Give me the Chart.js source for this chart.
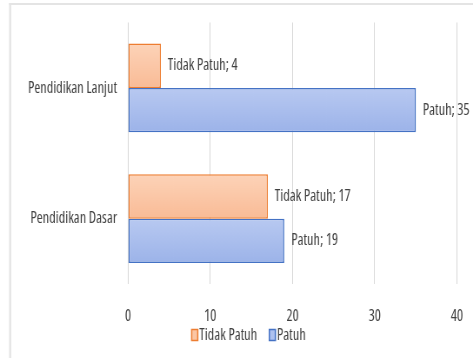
<!DOCTYPE html>
<html>
<head>
<meta charset="utf-8">
<script src="https://cdn.jsdelivr.net/npm/chart.js@4.4.1/dist/chart.umd.min.js"></script>
<style>
  html, body { margin: 0; padding: 0; background: #fff; overflow: hidden; }
  /* el original está comprimido en horizontal: dibujamos más ancho y encogemos */
  #caja { width: 544px; height: 358px; transform: scaleX(0.8695); transform-origin: 0 0; }
</style>
</head>
<body>
<div id="caja"><canvas id="myChart" width="544" height="358"></canvas></div>
<script>
const kategori = ['Pendidikan Lanjut', 'Pendidikan Dasar'];
const seri = ['Tidak Patuh', 'Patuh'];
const tidakPatuh = [4, 17];
const patuh = [35, 19];
const ticksX = [0, 10, 20, 30, 40];

const familia = "'Open Sans', sans-serif";
const tam = 16.5;
const fuente = { family: familia, size: tam, weight: 'condensed' };
const fuenteCss = 'condensed ' + tam + 'px ' + familia;
const gris = '#404040';
const porcentajeCat = 0.677;

const naranja = { borde: '#ed7d31', claro: '#fdd3b8', oscuro: '#f9bb96', caja: '#fbc6a4' };
const azul = { borde: '#4472c4', claro: '#b8c9f1', oscuro: '#9cb3e9', caja: '#adc1ef' };

// degradado vertical por barra, como en Excel
function degradado(col, indice) {
  return (ctx) => {
    const chart = ctx.chart;
    const y = chart.scales.y;
    if (!y || !chart.chartArea || ctx.dataIndex === undefined) return col.caja;
    const centro = y.getPixelForValue(ctx.dataIndex);
    const banda = (y.bottom - y.top) / kategori.length * porcentajeCat / 2;
    const arriba = indice === 0 ? centro - banda : centro;
    const g = chart.ctx.createLinearGradient(0, arriba, 0, arriba + banda);
    g.addColorStop(0, col.claro);
    g.addColorStop(1, col.oscuro);
    return g;
  };
}

const marco = {
  id: 'marco',
  beforeDraw(chart) {
    const c = chart.ctx;
    c.save();
    c.fillStyle = '#fff';
    c.fillRect(0, 0, chart.width, chart.height);
    c.fillStyle = '#e4e4e4';
    c.fillRect(10.5, 3, chart.width, 2);
    c.fillRect(10.5, 3, 2.3, chart.height);
    c.restore();
  }
};

const etiquetas = {
  id: 'etiquetas',
  afterDatasetsDraw(chart) {
    const c = chart.ctx;
    c.save();
    c.font = fuenteCss;
    c.fillStyle = gris;
    c.textBaseline = 'middle';
    c.textAlign = 'left';
    chart.data.datasets.forEach((ds, i) => {
      chart.getDatasetMeta(i).data.forEach((bar, j) => {
        c.fillText(ds.label + '; ' + ds.data[j], bar.x + 8, bar.y);
      });
    });
    c.restore();
  }
};

const leyenda = {
  id: 'leyenda',
  afterDraw(chart) {
    const c = chart.ctx;
    const colores = [naranja, azul];
    c.save();
    c.font = fuenteCss;
    c.textBaseline = 'middle';
    const ancho = 7, alto = 11, hueco = 1.8, sep = 14;
    const items = chart.data.datasets.map((ds, i) => ({ texto: ds.label, col: colores[i], w: c.measureText(ds.label).width }));
    const total = items.reduce((a, it) => a + ancho + hueco + it.w, 0) + sep * (items.length - 1);
    let x = 286 - total / 2;
    const y = 335;
    items.forEach(it => {
      c.fillStyle = it.col.caja;
      c.fillRect(x, y - alto / 2, ancho, alto);
      c.strokeStyle = it.col.borde;
      c.lineWidth = 1.5;
      c.strokeRect(x, y - alto / 2, ancho, alto);
      x += ancho + hueco;
      c.fillStyle = gris;
      c.fillText(it.texto, x, y);
      x += it.w + sep;
    });
    c.restore();
  }
};

const ctx = document.getElementById('myChart');
new Chart(ctx, {
  type: 'bar',
  data: {
    labels: kategori,
    datasets: [{
      label: seri[0],
      data: tidakPatuh,
      backgroundColor: degradado(naranja, 0),
      borderColor: naranja.borde,
      borderWidth: 1.5,
      borderSkipped: false,
      categoryPercentage: porcentajeCat,
      barPercentage: 1
    }, {
      label: seri[1],
      data: patuh,
      backgroundColor: degradado(azul, 1),
      borderColor: azul.borde,
      borderWidth: 1.5,
      borderSkipped: false,
      categoryPercentage: porcentajeCat,
      barPercentage: 1
    }]
  },
  options: {
    indexAxis: 'y',
    responsive: false,
    animation: false,
    layout: { padding: { left: 14, right: 18.4, top: 22, bottom: 28 } },
    scales: {
      x: {
        min: ticksX[0],
        max: ticksX[ticksX.length - 1],
        afterBuildTicks: (s) => { s.ticks = ticksX.map(v => ({ value: v })); },
        afterFit: (s) => { s.height = 46; s.paddingLeft = 0; s.paddingRight = 0; },
        grid: { color: '#d9d9d9', drawTicks: false },
        border: { display: false },
        ticks: { padding: 22, color: gris, font: fuente }
      },
      y: {
        afterFit: (s) => { s.width = 133.2; },
        grid: { display: false, drawTicks: false },
        border: { display: false },
        ticks: { padding: 12.6, color: gris, font: fuente }
      }
    },
    plugins: {
      legend: { display: false },
      tooltip: { enabled: false }
    }
  },
  plugins: [marco, etiquetas, leyenda]
});
</script>
</body>
</html>
